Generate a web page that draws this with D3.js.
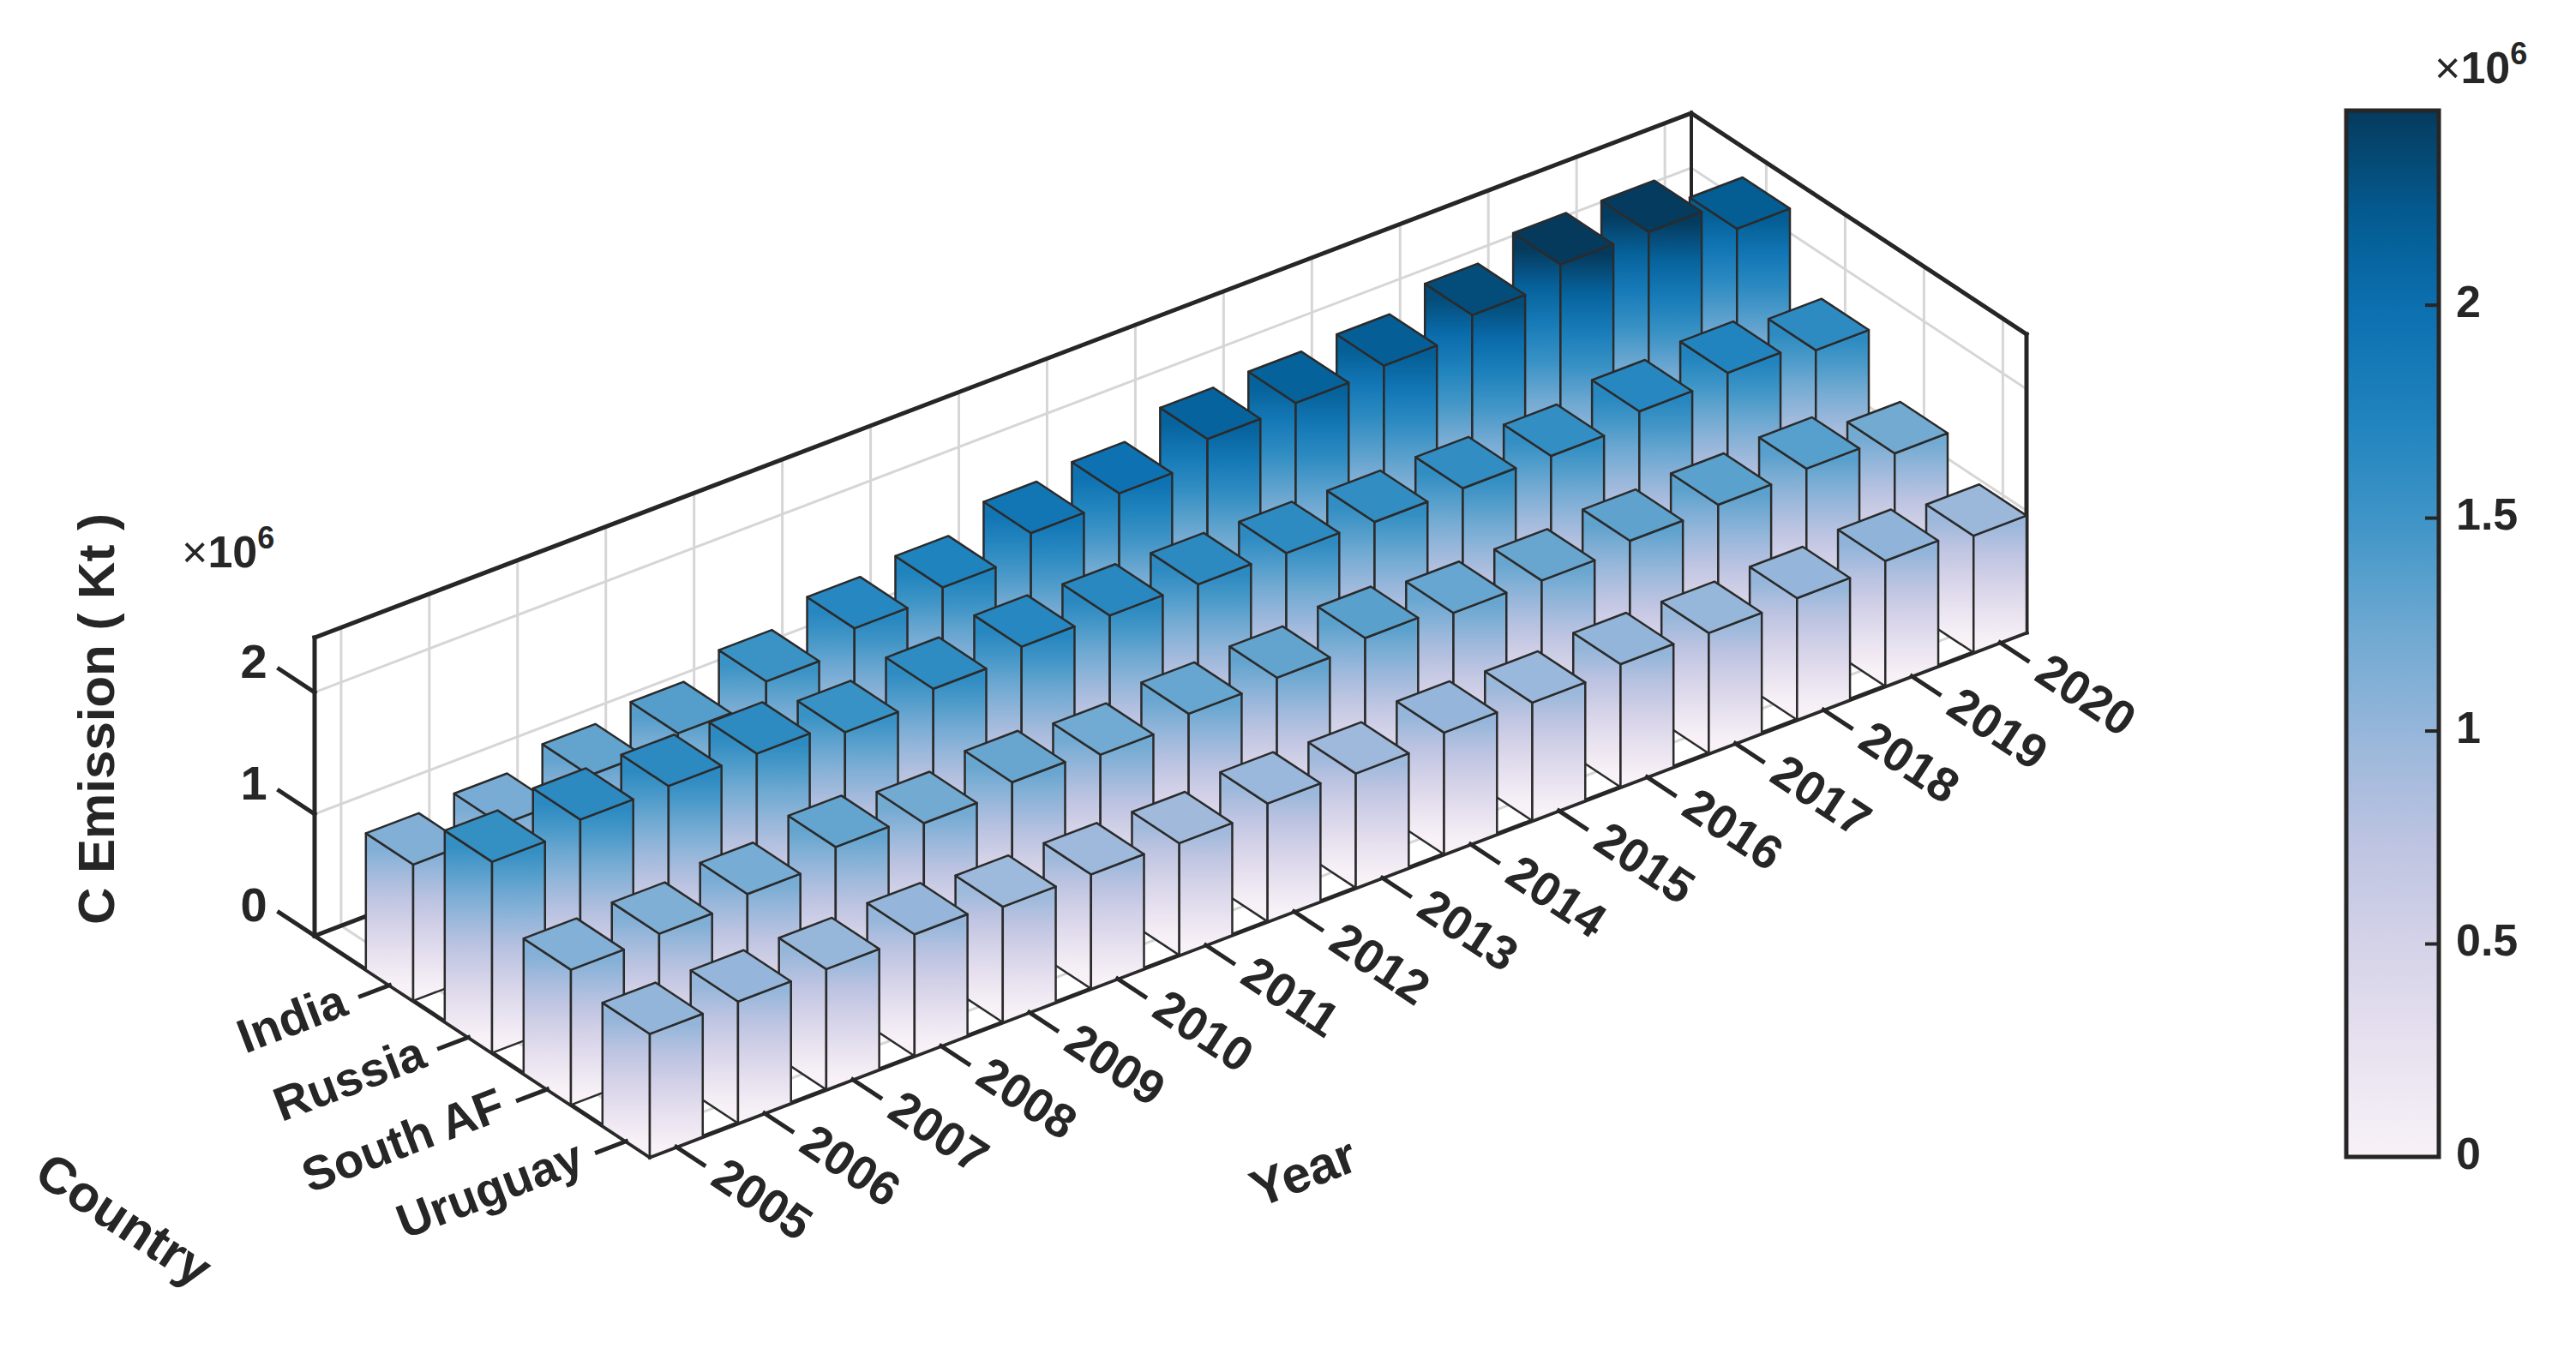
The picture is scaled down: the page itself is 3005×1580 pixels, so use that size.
<!doctype html>
<html lang="en">
<head>
  <meta charset="utf-8">
  <title>C Emission</title>
  <script src="https://cdnjs.cloudflare.com/ajax/libs/d3/7.8.5/d3.min.js"></script>
  <style>
    body { margin: 0; background: #fff; }
    text { font-family: "Liberation Sans", Arial, sans-serif; font-weight: bold; fill: #262626; }
  </style>
</head>
<body>
<div id="chart"></div>
<script>

// data (values in 1e6 Kt)
var years = ["2005","2006","2007","2008","2009","2010","2011","2012","2013","2014","2015","2016","2017","2018","2019","2020"];
var countries = ["India", "Russia", "South AF", "Uruguay"];
var india   = [1.12,1.17,1.30,1.37,1.52,1.68,1.74,1.91,1.96,2.13,2.15,2.18,2.32,2.46,2.45,2.20];
var russia  = [1.57,1.64,1.64,1.63,1.53,1.61,1.68,1.66,1.64,1.62,1.60,1.60,1.59,1.68,1.72,1.63];
var southAf = [1.11,1.13,1.18,1.29,1.21,1.27,1.22,1.28,1.30,1.35,1.28,1.27,1.32,1.34,1.36,1.21];
var uruguay = [1.01,1.00,0.99,1.00,0.95,0.94,0.92,0.97,0.94,1.00,0.97,1.01,0.99,1.00,1.03,0.96];
var zTicks = [0, 1, 2];
var cbTicks = [0, 0.5, 1, 1.5, 2];
var series = [india, russia, southAf, uruguay];

var W = 3005, H = 1580;
var svg = d3.select("#chart").append("svg").attr("width", W).attr("height", H);
var defs = svg.append("defs");

// projection of the 3d box: floor corners A (back-left), B (front-left), C (front-right)
var A = [367, 1092], B = [758, 1350], C = [2364, 738];
var zMax = 2.45;
var u = d3.scaleLinear().domain([-0.3, 15.3]).range([0, 1]);   // year index
var v = d3.scaleLinear().domain([-0.95, 3.3]).range([0, 1]);   // country index
var z = d3.scaleLinear().domain([0, zMax]).range([0, 348]);
function P(a, b, c) {
  var fu = u(a), fv = v(b);
  return [A[0] + fv * (B[0] - A[0]) + fu * (C[0] - B[0]),
          A[1] + fv * (B[1] - A[1]) + fu * (C[1] - B[1]) - z(c)];
}
function poly(pts) { return "M" + pts.map(function(p) { return p[0] + "," + p[1]; }).join("L") + "Z"; }
function line(p, q, stroke, w) {
  svg.append("line").attr("x1", p[0]).attr("y1", p[1]).attr("x2", q[0]).attr("y2", q[1])
    .attr("stroke", stroke).attr("stroke-width", w).attr("stroke-linecap", "square");
}

var cMax = 2.457;
var cmap = d3.scaleLinear()
  .domain([0, 0.25, 0.5, 0.75, 1.0, 1.25, 1.5, 1.75, 2.0, 2.2, 2.457])
  .range(["#f8f1f7","#e8e2f0","#d4d2e8","#bcc3e1","#95b6da","#6ca8d1","#3d94c6","#1e82bd","#0b6fb0","#045d93","#053a5d"])
  .clamp(true);

var U0 = -0.3, U1 = 15.3, V0 = -0.95, V1 = 3.3;
var grid = "#d6d6d6";

// grid lines
years.forEach(function(y, i) {
  line(P(i, V0, 0), P(i, V0, zMax), grid, 3);
  line(P(i, V0, 0), P(i, V1, 0), grid, 3);
});
countries.forEach(function(c, j) {
  line(P(U1, j, 0), P(U1, j, zMax), grid, 3);
  line(P(U0, j, 0), P(U1, j, 0), grid, 3);
});
zTicks.forEach(function(t) {
  if (t === 0) return;
  line(P(U0, V0, t), P(U1, V0, t), grid, 3);
  line(P(U1, V0, t), P(U1, V1, t), grid, 3);
});

// box edges
var k = "#262626";
line(P(U0, V0, 0), P(U0, V0, zMax), k, 5);
line(P(U0, V0, zMax), P(U1, V0, zMax), k, 5);
line(P(U1, V0, zMax), P(U1, V1, zMax), k, 5);
line(P(U1, V1, 0), P(U1, V1, zMax), k, 5);
line(P(U1, V0, 0), P(U1, V0, zMax), k, 4);
line(P(U0, V0, 0), P(U1, V0, 0), k, 5);
line(P(U0, V0, 0), P(U0, V1, 0), k, 5);
line(P(U0, V1, 0), P(U1, V1, 0), k, 5);

// bars, back to front
var hw = 0.3, gid = 0;
function gradient(p0, p1, h) {
  var id = "g" + (gid++);
  var g = defs.append("linearGradient").attr("id", id).attr("gradientUnits", "userSpaceOnUse")
    .attr("x1", p0[0]).attr("y1", p0[1]).attr("x2", p1[0]).attr("y2", p1[1]);
  d3.range(0, 1.0001, 0.125).forEach(function(f) {
    g.append("stop").attr("offset", f).attr("stop-color", cmap(f * h));
  });
  return "url(#" + id + ")";
}
var barG = svg.append("g").attr("stroke", "#2b2b2b").attr("stroke-width", 2.5).attr("stroke-linejoin", "round");
countries.forEach(function(c, j) {
  for (var i = years.length - 1; i >= 0; i--) {
    var h = series[j][i];
    var a0 = i - hw, a1 = i + hw, b0 = j - hw, b1 = j + hw;
    // left face (year-min side)
    barG.append("path")
      .attr("d", poly([P(a0, b0, 0), P(a0, b1, 0), P(a0, b1, h), P(a0, b0, h)]))
      .attr("fill", gradient(P(a0, j, 0), P(a0, j, h), h));
    // front face (country-max side)
    barG.append("path")
      .attr("d", poly([P(a0, b1, 0), P(a1, b1, 0), P(a1, b1, h), P(a0, b1, h)]))
      .attr("fill", gradient(P(i, b1, 0), P(i, b1, h), h));
    // top
    barG.append("path")
      .attr("d", poly([P(a0, b0, h), P(a0, b1, h), P(a1, b1, h), P(a1, b0, h)]))
      .attr("fill", cmap(h));
  }
});

// ticks and tick labels
var fs = 56;
zTicks.forEach(function(t) {
  var p = P(U0, V0, t), q = P(U0, V0 - 0.45, t);
  line(p, q, k, 5);
  svg.append("text").attr("x", q[0] - 14).attr("y", q[1] - 4)
    .attr("text-anchor", "end").attr("dominant-baseline", "middle")
    .attr("font-size", fs).text(t);
});
var angU = Math.atan2(C[1] - B[1], C[0] - B[0]) * 180 / Math.PI;
var angV = Math.atan2(B[1] - A[1], B[0] - A[0]) * 180 / Math.PI;
countries.forEach(function(c, j) {
  var p = P(U0, j, 0), q = P(U0 - 0.33, j, 0), t = P(U0 - 0.5, j, 0);
  line(p, q, k, 5);
  svg.append("text").attr("transform", "translate(" + t[0] + "," + t[1] + ") rotate(" + angU + ")")
    .attr("text-anchor", "end").attr("dominant-baseline", "middle")
    .attr("font-size", fs).text(c);
});
years.forEach(function(y, i) {
  var p = P(i, V1, 0), q = P(i, V1 + 0.35, 0), t = P(i, V1 + 0.5, 0);
  line(p, q, k, 5);
  svg.append("text").attr("transform", "translate(" + t[0] + "," + t[1] + ") rotate(" + angV + ")")
    .attr("text-anchor", "start").attr("dominant-baseline", "middle")
    .attr("font-size", fs).text(y);
});

// axis titles
svg.append("text").attr("transform", "translate(117,839) rotate(-90)")
  .attr("text-anchor", "middle").attr("dominant-baseline", "middle")
  .attr("font-size", 60).text("C Emission ( Kt )");
svg.append("text").attr("transform", "translate(142,1427) rotate(" + angV + ")")
  .attr("text-anchor", "middle").attr("dominant-baseline", "middle")
  .attr("font-size", 60).text("Country");
svg.append("text").attr("transform", "translate(1522,1372) rotate(" + angU + ")")
  .attr("text-anchor", "middle").attr("dominant-baseline", "middle")
  .attr("font-size", 60).text("Year");

function expLabel(x, y) {
  var t = svg.append("text").attr("x", x).attr("y", y).attr("font-size", 52);
  t.append("tspan").attr("font-weight", "normal").text("\u00d7");
  t.append("tspan").text("10");
  t.append("tspan").attr("dy", -22).attr("font-size", 36).text("6");
}
expLabel(212, 662);

// colorbar
var cbX = 2737, cbW = 108;
var cy = d3.scaleLinear().domain([0, cMax]).range([1350, 129]);
var cg = defs.append("linearGradient").attr("id", "cb").attr("x1", 0).attr("y1", 1).attr("x2", 0).attr("y2", 0);
d3.range(0, 1.0001, 0.05).forEach(function(f) {
  cg.append("stop").attr("offset", f).attr("stop-color", cmap(f * cMax));
});
svg.append("rect").attr("x", cbX).attr("y", cy(cMax)).attr("width", cbW).attr("height", cy(0) - cy(cMax))
  .attr("fill", "url(#cb)").attr("stroke", k).attr("stroke-width", 5);
cbTicks.forEach(function(t) {
  line([cbX + cbW - 14, cy(t)], [cbX + cbW, cy(t)], k, 4);
  svg.append("text").attr("x", cbX + cbW + 20).attr("y", cy(t))
    .attr("dominant-baseline", "middle").attr("font-size", 52).text(t);
});
expLabel(2840, 97);

</script>
</body>
</html>
